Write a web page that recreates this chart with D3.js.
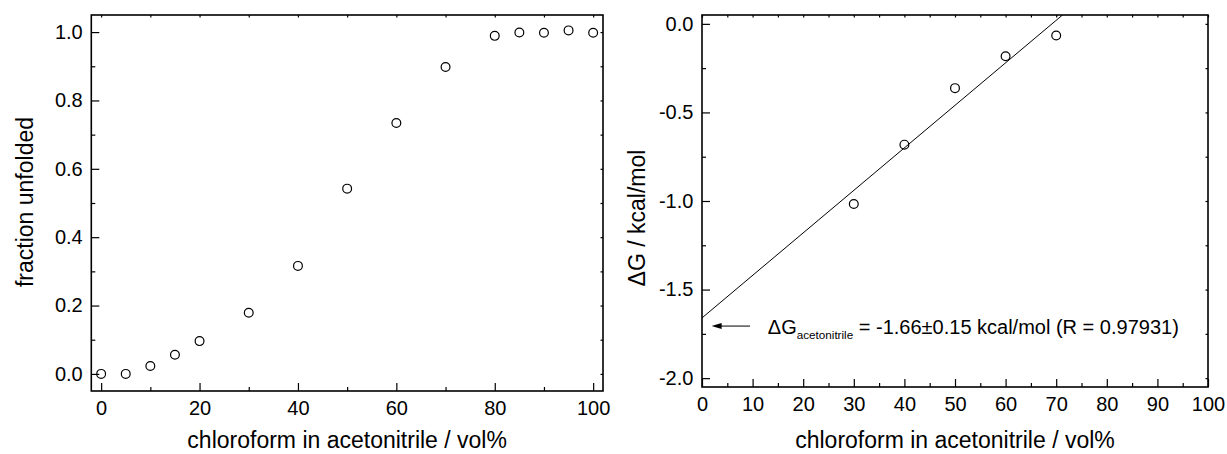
<!DOCTYPE html>
<html>
<head>
<meta charset="utf-8">
<script src="https://cdn.jsdelivr.net/npm/d3@7"></script>
<style>
  html, body { margin: 0; padding: 0; background: #fff; }
  svg { display: block; }
  text { font-family: Arial, "Liberation Sans", sans-serif; fill: #000; }
</style>
</head>
<body>
<svg id="chart" width="1227" height="454"></svg>
<script>
// ---------- data ----------
const leftX = [0, 5, 10, 15, 20, 30, 40, 50, 60, 70, 80, 85, 90, 95, 100];
const leftY = [0.0, 0.0, 0.023, 0.056, 0.096, 0.179, 0.316, 0.542, 0.734, 0.898, 0.989, 0.999, 0.998, 1.005, 0.998];
const leftXTicks = [0, 20, 40, 60, 80, 100];
const leftXMinor = [10, 30, 50, 70, 90];
const leftYTicks = [0.0, 0.2, 0.4, 0.6, 0.8, 1.0];
const leftYMinor = [0.1, 0.3, 0.5, 0.7, 0.9];

const rightX = [30, 40, 50, 60, 70];
const rightY = [-1.017, -0.682, -0.363, -0.183, -0.066];
const fitIntercept = -1.66;
const fitSlope = 0.024;
const rightXTicks = [0, 10, 20, 30, 40, 50, 60, 70, 80, 90, 100];
const rightXMinor = [5, 15, 25, 35, 45, 55, 65, 75, 85, 95];
const rightYTicks = [0.0, -0.5, -1.0, -1.5, -2.0];
const rightYMinor = [-0.25, -0.75, -1.25, -1.75];

const xTitle = "chloroform in acetonitrile / vol%";
const leftYTitle = "fraction unfolded";
const rightYTitle = "\u0394G / kcal/mol";

// ---------- layout ----------
const svg = d3.select("#chart");
const tickFont = 20, titleFont = 23;
const fmt1 = d => (Math.abs(d) < 1e-9 ? 0 : d).toFixed(1);   // hyphen-minus like the original
const fmt0 = d => String(d);

function panel(cfg) {
  const g = svg.append("g");
  const x = d3.scaleLinear().domain(cfg.xDomain).range([cfg.left, cfg.right]);
  const y = d3.scaleLinear().domain(cfg.yDomain).range([cfg.bottom, cfg.top]);

  const clipId = "clip" + cfg.id;
  svg.append("clipPath").attr("id", clipId).append("rect")
    .attr("x", cfg.left).attr("y", cfg.top)
    .attr("width", cfg.right - cfg.left).attr("height", cfg.bottom - cfg.top);

  function styleAxis(sel, labels) {
    sel.select(".domain").remove();
    sel.selectAll(".tick line").attr("stroke", "#000").attr("stroke-width", 1.2);
    if (!labels) sel.selectAll(".tick text").remove();
    else sel.selectAll(".tick text").attr("font-size", tickFont)
      .attr("font-family", "Arial, 'Liberation Sans', sans-serif").attr("fill", "#000");
  }
  g.append("g").attr("transform", `translate(0,${cfg.bottom})`)
    .call(d3.axisBottom(x).tickValues(cfg.xTicks).tickSize(-8).tickPadding(9.8).tickFormat(fmt0))
    .call(s => styleAxis(s, true));
  g.append("g").attr("transform", `translate(0,${cfg.bottom})`)
    .call(d3.axisBottom(x).tickValues(cfg.xMinor).tickSize(-4))
    .call(s => styleAxis(s, false));
  g.append("g").attr("transform", `translate(${cfg.left},0)`)
    .call(d3.axisLeft(y).tickValues(cfg.yTicks).tickSize(-8).tickPadding(8.6).tickFormat(fmt1))
    .call(s => styleAxis(s, true));
  g.append("g").attr("transform", `translate(${cfg.left},0)`)
    .call(d3.axisLeft(y).tickValues(cfg.yMinor).tickSize(-4))
    .call(s => styleAxis(s, false));
  g.append("g").attr("transform", `translate(0,${cfg.top})`)
    .call(d3.axisTop(x).tickValues(cfg.xTicks.concat(cfg.xMinor)).tickSize(-2.5))
    .call(s => styleAxis(s, false));
  g.append("g").attr("transform", `translate(${cfg.right},0)`)
    .call(d3.axisRight(y).tickValues(cfg.yTicks.concat(cfg.yMinor)).tickSize(-2.5))
    .call(s => styleAxis(s, false));

  g.append("rect").attr("x", cfg.left).attr("y", cfg.top)
    .attr("width", cfg.right - cfg.left).attr("height", cfg.bottom - cfg.top)
    .attr("fill", "none").attr("stroke", "#000").attr("stroke-width", 1.6);

  g.append("text").attr("x", (cfg.left + cfg.right) / 2).attr("y", 448)
    .attr("text-anchor", "middle").attr("font-size", titleFont).text(xTitle);
  g.append("text").attr("transform", `translate(${cfg.yTitleX},${cfg.yTitleY}) rotate(-90)`)
    .attr("text-anchor", "middle").attr("font-size", titleFont).text(cfg.yTitle);

  return { g, x, y, clipId };
}

const L = panel({
  id: "L", left: 91.3, right: 603, top: 15, bottom: 391,
  xDomain: [-2, 102], yDomain: [-0.05, 1.05],
  xTicks: leftXTicks, xMinor: leftXMinor, yTicks: leftYTicks, yMinor: leftYMinor,
  yTitle: leftYTitle, yTitleX: 33, yTitleY: 202
});
L.g.append("g").selectAll("circle").data(leftX.map((d, i) => [d, leftY[i]])).enter()
  .append("circle")
  .attr("cx", d => L.x(d[0])).attr("cy", d => L.y(d[1])).attr("r", 4.4)
  .attr("fill", "none").attr("stroke", "#000").attr("stroke-width", 1.2);

const R = panel({
  id: "R", left: 702, right: 1208, top: 15, bottom: 387,
  xDomain: [0, 100], yDomain: [-2.05, 0.05],
  xTicks: rightXTicks, xMinor: rightXMinor, yTicks: rightYTicks, yMinor: rightYMinor,
  yTitle: rightYTitle, yTitleX: 645, yTitleY: 218
});
const fitXs = [0, 100];
R.g.append("path").attr("clip-path", `url(#${R.clipId})`)
  .attr("d", d3.line().x(d => R.x(d)).y(d => R.y(fitIntercept + fitSlope * d))(fitXs))
  .attr("fill", "none").attr("stroke", "#000").attr("stroke-width", 1);
R.g.append("g").selectAll("circle").data(rightX.map((d, i) => [d, rightY[i]])).enter()
  .append("circle")
  .attr("cx", d => R.x(d[0])).attr("cy", d => R.y(d[1])).attr("r", 4.4)
  .attr("fill", "none").attr("stroke", "#000").attr("stroke-width", 1.2);

const arrowY = R.y(-1.706);
const ax0 = R.x(9.5), ax1 = R.x(1.9);
R.g.append("line").attr("x1", ax0).attr("x2", ax1 + 8).attr("y1", arrowY).attr("y2", arrowY)
  .attr("stroke", "#000").attr("stroke-width", 1);
R.g.append("path")
  .attr("d", `M${ax1},${arrowY} L${ax1 + 10},${arrowY - 3} L${ax1 + 10},${arrowY + 3} Z`)
  .attr("fill", "#000");
const ann = R.g.append("text").attr("x", R.x(13)).attr("y", 333.5).attr("font-size", 20);
ann.append("tspan").text("\u0394G");
ann.append("tspan").attr("font-size", 11.7).attr("dy", 5).text("acetonitrile");
ann.append("tspan").attr("dy", -5).text(" = -1.66\u00b10.15 kcal/mol (R = 0.97931)");
</script>
</body>
</html>
